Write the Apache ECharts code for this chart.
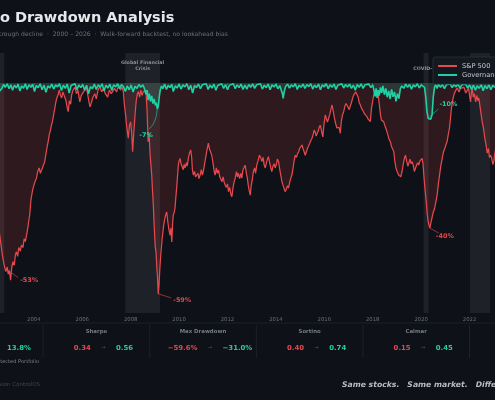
<!DOCTYPE html>
<html>
<head>
<meta charset="utf-8">
<script src="https://cdn.jsdelivr.net/npm/echarts/dist/echarts.min.js"></script>
<style>
  html, body { margin: 0; padding: 0; width: 495px; height: 400px; overflow: hidden; background: #0e1117; }
  #chart { position: absolute; left: -100px; top: 0; width: 700px; height: 400px; }
</style>
</head>
<body>
<div id="chart"></div>
<script>
// canvas is wider than the window, shifted left (the picture is a crop)
var OFF = 100;

var xMin = 2000, xMax = 2026, xStep = 2;

// [decimal year, drawdown %]
var spPoints = [
  [2000.00, 0], [2000.20, -2], [2000.45, -6], [2000.70, -3], [2000.95, -12], [2001.20, -20],
  [2001.45, -16], [2001.70, -28], [2001.90, -22], [2002.10, -24], [2002.35, -30], [2002.50, -38],
  [2002.59, -43], [2002.65, -46], [2002.70, -48.6], [2002.76, -51], [2002.84, -53.3], [2002.90, -52],
  [2002.94, -54], [2002.99, -53], [2003.04, -55.7], [2003.09, -52], [2003.14, -50.5], [2003.19, -51.5],
  [2003.24, -48.5], [2003.28, -47.7], [2003.33, -49], [2003.38, -46.5], [2003.44, -47.5], [2003.49, -45.8],
  [2003.55, -46.5], [2003.60, -44], [2003.65, -44.8], [2003.70, -43], [2003.75, -41], [2003.80, -38.5],
  [2003.83, -37.3], [2003.88, -33], [2003.93, -31], [2003.97, -29.7], [2004.02, -28.5], [2004.07, -27.5],
  [2004.11, -26.9], [2004.16, -25], [2004.22, -24], [2004.27, -25.5], [2004.32, -26], [2004.38, -23.5],
  [2004.45, -22.2], [2004.50, -20], [2004.55, -18], [2004.59, -16.6], [2004.64, -14.5], [2004.68, -13.5],
  [2004.73, -11.9], [2004.78, -10.5], [2004.83, -8.5], [2004.87, -7], [2004.92, -5], [2004.96, -4],
  [2005.00, -3.4], [2005.05, -2], [2005.10, -3.5], [2005.15, -4.2], [2005.20, -2.5], [2005.28, -2],
  [2005.33, -5], [2005.38, -7], [2005.42, -8.1], [2005.47, -5], [2005.52, -6], [2005.56, -3.4],
  [2005.62, -2], [2005.70, -1.2], [2005.76, -3], [2005.82, -2], [2005.90, -5.3], [2005.96, -3.5],
  [2006.02, -4], [2006.10, -2], [2006.16, -1], [2006.22, -3], [2006.27, -5], [2006.32, -6.7],
  [2006.38, -5.5], [2006.44, -4], [2006.52, -3], [2006.58, -4.5], [2006.65, -2], [2006.73, -1],
  [2006.80, -2.5], [2006.88, -1.5], [2006.95, -3], [2006.99, -2.5], [2007.05, -4], [2007.12, -2],
  [2007.20, -3], [2007.26, -3.5], [2007.33, -1.5], [2007.42, -2.5], [2007.50, -0.5], [2007.58, -2],
  [2007.64, -1], [2007.70, -2.5], [2007.74, -6], [2007.79, -9], [2007.83, -11.9], [2007.87, -14],
  [2007.90, -15.6], [2007.95, -12], [2008.00, -11], [2008.04, -14], [2008.08, -19.4], [2008.12, -15],
  [2008.18, -9], [2008.23, -5], [2008.28, -3], [2008.32, -2.4], [2008.37, -4], [2008.42, -2],
  [2008.47, -3.5], [2008.52, -2.5], [2008.57, -3], [2008.63, -2], [2008.68, -8], [2008.72, -16.6],
  [2008.76, -14], [2008.80, -20], [2008.87, -26], [2008.90, -30], [2008.94, -35], [2008.97, -40],
  [2009.01, -45.8], [2009.05, -48], [2009.08, -52], [2009.11, -55], [2009.14, -59.6], [2009.17, -57],
  [2009.21, -52], [2009.25, -48], [2009.30, -44], [2009.35, -41], [2009.38, -39.5], [2009.42, -38],
  [2009.46, -37], [2009.49, -36.4], [2009.53, -39], [2009.58, -41.5], [2009.63, -43], [2009.66, -41],
  [2009.70, -44.9], [2009.73, -40], [2009.76, -37.3], [2009.80, -36.5], [2009.83, -35.5], [2009.87, -32],
  [2009.90, -29.7], [2009.94, -26], [2009.97, -23.2], [2010.00, -22], [2010.04, -21.3], [2010.08, -22.8],
  [2010.11, -22.6], [2010.17, -24.5], [2010.21, -23], [2010.25, -24], [2010.30, -22.5], [2010.34, -23.5],
  [2010.38, -21.3], [2010.43, -19.8], [2010.48, -18.9], [2010.52, -21], [2010.55, -24.5], [2010.59, -26],
  [2010.64, -25], [2010.68, -26.5], [2010.73, -26.9], [2010.78, -25.5], [2010.82, -27], [2010.87, -26],
  [2010.92, -24.5], [2010.96, -26], [2011.00, -25.1], [2011.05, -23], [2011.10, -21], [2011.14, -19.4],
  [2011.21, -17], [2011.25, -18.5], [2011.30, -19], [2011.35, -20.4], [2011.40, -22.5], [2011.45, -25],
  [2011.49, -26], [2011.54, -24], [2011.58, -25.5], [2011.63, -24.6], [2011.68, -26.5], [2011.73, -27],
  [2011.77, -27.9], [2011.82, -26.5], [2011.86, -28], [2011.90, -28.8], [2011.95, -29.5], [2012.00, -28.5],
  [2012.04, -30.7], [2012.09, -29.5], [2012.14, -31.5], [2012.18, -32.1], [2012.22, -30], [2012.27, -28],
  [2012.32, -26.9], [2012.37, -25], [2012.41, -26.5], [2012.45, -25.5], [2012.50, -27], [2012.55, -25.5],
  [2012.59, -26.9], [2012.64, -24.5], [2012.69, -23.8], [2012.73, -23.2], [2012.78, -25.5], [2012.82, -26.9],
  [2012.86, -29], [2012.90, -30.5], [2012.94, -31.7], [2012.98, -29], [2013.03, -27], [2013.07, -25],
  [2013.12, -24], [2013.16, -25.5], [2013.21, -23.2], [2013.26, -22], [2013.32, -20.4], [2013.37, -21],
  [2013.42, -22.2], [2013.47, -21], [2013.51, -23], [2013.56, -24], [2013.61, -22.5], [2013.65, -21.5],
  [2013.69, -20.8], [2013.74, -22.5], [2013.79, -24], [2013.83, -25], [2013.88, -23.5], [2013.93, -22.8],
  [2013.97, -24], [2014.02, -23], [2014.06, -21.5], [2014.11, -22.2], [2014.16, -24.5], [2014.20, -26],
  [2014.25, -27.9], [2014.30, -29], [2014.34, -29.5], [2014.38, -30.7], [2014.43, -30], [2014.48, -29],
  [2014.52, -29.7], [2014.57, -28], [2014.61, -27], [2014.66, -26], [2014.71, -24], [2014.75, -22],
  [2014.80, -20.4], [2014.85, -21], [2014.89, -20], [2014.94, -19.4], [2014.98, -18.5], [2015.03, -18],
  [2015.08, -17.5], [2015.12, -18.5], [2015.17, -19.5], [2015.21, -20.4], [2015.26, -19.5], [2015.30, -18.5],
  [2015.35, -18], [2015.40, -17], [2015.44, -16.3], [2015.49, -15.6], [2015.54, -14.5], [2015.58, -13.3],
  [2015.63, -14], [2015.66, -15], [2015.70, -14.7], [2015.75, -13.5], [2015.79, -12.5], [2015.83, -11.9],
  [2015.87, -13], [2015.91, -14.5], [2015.94, -15.2], [2015.98, -12], [2016.04, -9], [2016.08, -10],
  [2016.13, -11], [2016.18, -10.9], [2016.22, -9], [2016.27, -7.5], [2016.32, -6.2], [2016.37, -8],
  [2016.42, -10], [2016.47, -11.5], [2016.52, -12.7], [2016.56, -13.2], [2016.61, -12.5], [2016.66, -14.2],
  [2016.70, -11], [2016.75, -9], [2016.80, -8.1], [2016.85, -6.5], [2016.90, -5.8], [2016.94, -5.3],
  [2016.98, -6], [2017.03, -7.5], [2017.07, -7.1], [2017.12, -5.5], [2017.16, -4.5], [2017.21, -3.4],
  [2017.26, -3], [2017.30, -2.5], [2017.35, -2.4], [2017.40, -4], [2017.44, -5.5], [2017.49, -6.2],
  [2017.53, -7], [2017.58, -7.5], [2017.62, -8.1], [2017.67, -8.8], [2017.71, -9], [2017.76, -9.5],
  [2017.81, -10.2], [2017.86, -10.5], [2017.90, -10.9], [2017.95, -7], [2018.00, -5], [2018.04, -3.4],
  [2018.09, -2.5], [2018.14, -1.8], [2018.18, -1.4], [2018.22, -3], [2018.27, -6], [2018.32, -9],
  [2018.36, -10.5], [2018.41, -11], [2018.45, -10.9], [2018.50, -12], [2018.55, -13], [2018.59, -13.8],
  [2018.64, -15], [2018.68, -16], [2018.73, -16.6], [2018.78, -18], [2018.82, -18.5], [2018.87, -19.4],
  [2018.91, -22], [2018.96, -24], [2019.01, -25], [2019.07, -26], [2019.12, -25.5], [2019.16, -26.5],
  [2019.21, -25], [2019.26, -23], [2019.30, -21.5], [2019.35, -20.4], [2019.40, -22], [2019.45, -23.5],
  [2019.49, -23.2], [2019.54, -21.5], [2019.58, -22.8], [2019.63, -22.2], [2019.68, -23.5], [2019.72, -25],
  [2019.76, -24.5], [2019.81, -23.2], [2019.86, -22.5], [2019.90, -23.2], [2019.95, -22], [2020.00, -21.5],
  [2020.04, -21.3], [2020.08, -23], [2020.11, -26], [2020.16, -30], [2020.21, -33.6], [2020.25, -37],
  [2020.29, -39.2], [2020.33, -40.3], [2020.36, -41], [2020.40, -39.5], [2020.45, -38], [2020.50, -36.5],
  [2020.56, -35.3], [2020.61, -33.5], [2020.66, -31.7], [2020.71, -28.5], [2020.76, -26], [2020.81, -23.5],
  [2020.87, -21.3], [2020.92, -19.5], [2020.98, -18.4], [2021.02, -17.5], [2021.07, -16.6], [2021.12, -14.5],
  [2021.17, -12.7], [2021.21, -10], [2021.25, -7.1], [2021.30, -5], [2021.35, -3.4], [2021.42, -2.2],
  [2021.49, -1.4], [2021.56, -2.5], [2021.63, -1.5], [2021.70, -2], [2021.77, -1.2], [2021.84, -2.8],
  [2021.90, -2.4], [2021.96, -1.5], [2022.00, -3.5], [2022.04, -5.3], [2022.08, -2.5], [2022.11, -1.4],
  [2022.15, -4], [2022.20, -3], [2022.25, -5.3], [2022.30, -3.5], [2022.34, -5], [2022.38, -4.2],
  [2022.43, -6.5], [2022.48, -9], [2022.52, -10.9], [2022.57, -12.5], [2022.63, -15.6], [2022.68, -17.5],
  [2022.73, -19.8], [2022.78, -18.5], [2022.82, -21], [2022.87, -20.4], [2022.92, -21.5], [2022.96, -23],
  [2023.00, -22.2], [2023.04, -20], [2023.07, -19], [2023.20, -14], [2023.35, -12], [2023.55, -8],
  [2023.75, -10], [2023.95, -4], [2024.20, -1], [2024.50, -2], [2024.80, -1], [2025.10, -3],
  [2025.30, -17], [2025.50, -6], [2025.80, -1], [2026.00, 0]
];

var govPoints = [
  [2000.00, 0], [2000.25, -4], [2000.50, -9], [2000.75, -15], [2001.00, -22], [2001.25, -27],
  [2001.50, -31], [2001.75, -24], [2002.00, -16], [2002.25, -9], [2002.45, -4], [2002.59, -2.2],
  [2002.68, -1.5], [2002.75, -0.4], [2002.82, -1.2], [2002.90, -0.2], [2002.98, -1.6], [2003.05, -0.5],
  [2003.12, -2.0], [2003.20, -0.6], [2003.28, -1.4], [2003.35, -0.3], [2003.42, -2.2], [2003.50, -0.8],
  [2003.57, -1.5], [2003.65, -0.2], [2003.72, -1.8], [2003.80, -0.5], [2003.88, -1.2], [2003.95, -0.3],
  [2004.03, -2.4], [2004.10, -0.7], [2004.18, -1.3], [2004.26, -0.2], [2004.34, -1.9], [2004.42, -0.6],
  [2004.50, -2.6], [2004.58, -0.8], [2004.66, -1.4], [2004.74, -0.3], [2004.82, -1.7], [2004.90, -0.5],
  [2004.98, -1.1], [2005.06, -0.2], [2005.14, -2.1], [2005.22, -0.6], [2005.30, -1.5], [2005.38, -0.3],
  [2005.46, -2.8], [2005.54, -0.7], [2005.62, -1.2], [2005.70, -0.2], [2005.78, -1.9], [2005.86, -0.5],
  [2005.94, -1.3], [2006.02, -0.4], [2006.10, -2.0], [2006.18, -0.6], [2006.26, -3.0], [2006.34, -1.0],
  [2006.42, -1.6], [2006.50, -0.3], [2006.58, -1.8], [2006.66, -0.5], [2006.74, -1.2], [2006.82, -0.2],
  [2006.90, -2.2], [2006.98, -0.6], [2007.06, -1.4], [2007.14, -0.3], [2007.22, -2.0], [2007.30, -0.5],
  [2007.38, -1.1], [2007.46, -0.2], [2007.54, -1.6], [2007.62, -0.4], [2007.70, -1.0], [2007.78, -2.4],
  [2007.86, -0.8], [2007.94, -1.9], [2008.02, -0.6], [2008.10, -2.5], [2008.18, -0.9], [2008.26, -1.5],
  [2008.34, -0.4], [2008.42, -1.2], [2008.50, -0.5], [2008.56, -1.4], [2008.63, -3.2], [2008.68, -2.0],
  [2008.72, -4.8], [2008.77, -3.0], [2008.82, -5.2], [2008.87, -3.6], [2008.92, -5.8], [2008.97, -4.5],
  [2009.02, -6.3], [2009.06, -5.5], [2009.10, -7.3], [2009.14, -6.5], [2009.18, -4.0], [2009.22, -2.0],
  [2009.27, -0.8], [2009.33, -1.6], [2009.40, -0.3], [2009.48, -1.8], [2009.55, -0.6], [2009.62, -1.3],
  [2009.70, -0.4], [2009.76, -2.4], [2009.84, -0.8], [2009.92, -1.4], [2010.00, -0.3], [2010.08, -1.7],
  [2010.16, -0.5], [2010.24, -1.1], [2010.32, -0.2], [2010.40, -1.9], [2010.48, -0.6], [2010.56, -2.8],
  [2010.64, -0.7], [2010.72, -1.3], [2010.80, -0.3], [2010.88, -1.6], [2010.96, -0.5], [2011.04, -1.0],
  [2011.12, -0.2], [2011.20, -1.8], [2011.28, -0.6], [2011.36, -1.4], [2011.44, -0.3], [2011.52, -2.0],
  [2011.60, -0.7], [2011.68, -1.2], [2011.76, -0.2], [2011.84, -1.5], [2011.92, -0.4], [2012.00, -1.9],
  [2012.08, -0.6], [2012.16, -1.1], [2012.24, -0.2], [2012.32, -1.6], [2012.40, -0.5], [2012.48, -1.3],
  [2012.56, -0.3], [2012.64, -1.8], [2012.72, -0.6], [2012.80, -1.7], [2012.88, -0.4], [2012.96, -1.2],
  [2013.04, -0.2], [2013.12, -1.5], [2013.20, -0.5], [2013.28, -1.0], [2013.36, -0.2], [2013.44, -1.7],
  [2013.52, -0.6], [2013.60, -1.3], [2013.68, -0.3], [2013.76, -1.9], [2013.84, -0.5], [2013.92, -1.1],
  [2014.00, -0.3], [2014.08, -1.6], [2014.16, -0.7], [2014.22, -2.0], [2014.27, -3.0], [2014.30, -4.3],
  [2014.34, -2.5], [2014.40, -1.0], [2014.48, -0.3], [2014.56, -1.4], [2014.64, -0.5], [2014.72, -1.1],
  [2014.80, -0.2], [2014.88, -1.8], [2014.96, -0.6], [2015.04, -1.2], [2015.12, -0.3], [2015.20, -1.5],
  [2015.28, -0.4], [2015.36, -1.0], [2015.44, -0.2], [2015.52, -1.7], [2015.60, -0.6], [2015.68, -1.3],
  [2015.76, -0.3], [2015.84, -1.9], [2015.92, -0.5], [2016.00, -1.1], [2016.08, -0.2], [2016.16, -1.6],
  [2016.24, -0.5], [2016.32, -1.2], [2016.40, -0.3], [2016.48, -1.8], [2016.56, -0.6], [2016.64, -1.0],
  [2016.72, -0.2], [2016.80, -1.4], [2016.88, -0.4], [2016.96, -1.1], [2017.04, -0.3], [2017.12, -1.5],
  [2017.20, -0.6], [2017.28, -2.0], [2017.36, -0.4], [2017.44, -1.2], [2017.52, -0.2], [2017.60, -1.5],
  [2017.68, -0.5], [2017.76, -1.0], [2017.84, -0.3], [2017.92, -1.3], [2018.00, -0.5], [2018.06, -2.4],
  [2018.10, -3.8], [2018.14, -1.5], [2018.18, -4.2], [2018.22, -2.0], [2018.27, -3.5], [2018.32, -1.2],
  [2018.37, -2.8], [2018.42, -0.8], [2018.48, -3.3], [2018.54, -1.5], [2018.60, -4.0], [2018.66, -2.2],
  [2018.72, -4.5], [2018.78, -1.8], [2018.84, -3.9], [2018.90, -2.5], [2018.96, -5.2], [2019.02, -3.0],
  [2019.08, -4.4], [2019.14, -1.6], [2019.20, -0.8], [2019.28, -1.5], [2019.36, -0.3], [2019.44, -1.2],
  [2019.52, -0.4], [2019.60, -1.7], [2019.68, -0.5], [2019.76, -1.1], [2019.84, -0.2], [2019.92, -1.4],
  [2020.00, -0.5], [2020.06, -1.0], [2020.14, -1.2], [2020.19, -4.0], [2020.24, -8.0], [2020.29, -10.0],
  [2020.34, -9.5], [2020.40, -10.2], [2020.45, -9.0], [2020.50, -4.0], [2020.55, -1.2], [2020.60, -0.4],
  [2020.66, -1.5], [2020.72, -0.3], [2020.80, -1.2], [2020.88, -0.4], [2020.96, -1.6], [2021.04, -0.5],
  [2021.12, -1.0], [2021.20, -0.2], [2021.28, -1.3], [2021.36, -0.4], [2021.44, -1.1], [2021.52, -0.2],
  [2021.60, -1.5], [2021.68, -0.5], [2021.76, -1.0], [2021.84, -0.3], [2021.92, -1.4], [2022.00, -0.5],
  [2022.08, -1.8], [2022.16, -0.6], [2022.24, -2.0], [2022.32, -0.8], [2022.40, -1.5], [2022.48, -0.4],
  [2022.56, -2.2], [2022.64, -0.7], [2022.72, -1.6], [2022.80, -0.5], [2022.88, -1.9], [2022.96, -0.6],
  [2023.04, -1.2], [2023.30, -0.3], [2023.60, -1.0], [2024.00, -0.4], [2024.50, -1.2], [2025.00, -0.3],
  [2025.30, -3.0], [2025.60, -0.8], [2026.00, -0.2]
];

var crisisStart = [2000.2, 2007.78, 2020.1, 2022.02];
var crisisEnd = [2002.78, 2009.21, 2020.31, 2022.85];
var crisisNames = ['Dot-com\nCrash', 'Global Financial\nCrisis', 'COVID-19', '2022 Rate\nShock'];

var annoSeries = [0, 1, 0, 1, 0];
var annoYears = [2002.94, 2009.10, 2009.14, 2020.34, 2020.36];
var annoValues = [-53, -7.3, -59.6, -9.6, -41];
var annoTexts = ['-53%', '-7%', '-59%', '-10%', '-40%'];

var statNames = ['CAGR', 'Sharpe', 'Max Drawdown', 'Sortino', 'Calmar', 'Volatility'];
var statBefore = ['7.9%', '0.34', '\u221259.6%', '0.40', '0.15', '15.4%'];
var statAfter = ['13.8%', '0.56', '\u221231.0%', '0.74', '0.45', '9.1%'];

var RED = '#e5484d';
var TEAL = '#1fd1a5';
var FONT = 'DejaVu Sans';

var chart = echarts.init(document.getElementById('chart'));

var graphics = [
  { type: 'text', x: OFF - 61, y: 18, style: { text: 'Portfolio Drawdown Analysis', fill: '#e6e8ec', font: 'bold 14.5px ' + FONT, verticalAlign: 'middle' } },
  { type: 'text', x: OFF - 58.4, y: 34, style: { text: 'Maximum peak-to-trough decline  \u00b7  2000 \u2013 2026  \u00b7  Walk-forward backtest, no lookahead bias', fill: '#6b7079', font: '6.1px ' + FONT, verticalAlign: 'middle' } },
  { type: 'line', shape: { x1: OFF - 64, y1: 323, x2: OFF + 580, y2: 323 }, style: { stroke: '#1d2129', lineWidth: 1 } },
  { type: 'text', x: OFF + 39, y: 362, style: { text: 'S&P 500 \u2192 Governance-Protected Portfolio', fill: '#7d828b', font: '5.1px ' + FONT, align: 'right', verticalAlign: 'middle' } },
  { type: 'text', x: OFF + 40, y: 385, style: { text: 'Generated by Decision ControlOS', fill: '#40444d', font: '5.5px ' + FONT, align: 'right', verticalAlign: 'middle' } },
  { type: 'text', x: OFF + 342, y: 385, style: { text: 'Same stocks.   Same market.   Different outcome.', fill: '#b9bdc5', font: 'italic bold 7.7px ' + FONT, verticalAlign: 'middle' } }
];

// metric row
statNames.forEach(function (name, i) {
  var cx = OFF - 10.2 + 106.6 * i;
  graphics.push({ type: 'text', x: cx, y: 332, style: { text: name, fill: '#767b84', font: 'bold 5.4px ' + FONT, align: 'center', verticalAlign: 'middle' } });
  graphics.push({
    type: 'text', x: cx + 7, y: 348,
    style: {
      text: '{a|' + statBefore[i] + '}{s|\u2192}{b|' + statAfter[i] + '}',
      align: 'center', verticalAlign: 'middle',
      rich: {
        a: { fill: RED, font: 'bold 6.9px ' + FONT },
        s: { fill: '#50555e', font: '5px ' + FONT, padding: [0, 10.5] },
        b: { fill: TEAL, font: 'bold 6.9px ' + FONT }
      }
    }
  });
  if (i < statNames.length - 1) {
    graphics.push({ type: 'line', shape: { x1: cx + 53.3, y1: 325, x2: cx + 53.3, y2: 358 }, style: { stroke: '#1d2129', lineWidth: 1 } });
  }
});

var option = {
  backgroundColor: '#0e1117',
  animation: false,
  textStyle: { fontFamily: FONT },
  grid: { left: 37, right: 33.6, top: 53, bottom: 87 },
  legend: {
    orient: 'vertical',
    left: 533,
    top: 57,
    icon: 'rect',
    itemWidth: 19,
    itemHeight: 2,
    itemGap: 1,
    padding: [5, 6, 5, 5],
    backgroundColor: '#141820',
    borderColor: '#2b3039',
    borderWidth: 0.8,
    borderRadius: 2,
    textStyle: { color: '#c5c9d0', fontSize: 6.7, lineHeight: 8 },
    data: ['S&P 500', 'Governance-Protected Portfolio']
  },
  xAxis: {
    type: 'value',
    min: xMin,
    max: xMax,
    interval: xStep,
    axisLine: { show: false },
    axisTick: { show: true, length: 2, lineStyle: { color: '#3a3f48' } },
    axisLabel: { color: '#6b7079', fontSize: 5.3, margin: 4, formatter: function (v) { return String(v); } },
    splitLine: { show: false }
  },
  yAxis: { type: 'value', min: -65, max: 8.5, show: false },
  series: [
    {
      name: 'S&P 500',
      type: 'line',
      data: spPoints,
      symbol: 'none',
      z: 2,
      lineStyle: { color: RED, width: 1.25 },
      itemStyle: { color: RED },
      areaStyle: { color: 'rgba(229,72,77,0.21)' },
      markArea: {
        silent: true,
        itemStyle: { color: 'rgba(200,205,215,0.09)' },
        label: {
          position: ['50%', 19],
          align: 'center',
          verticalAlign: 'bottom',
          color: '#8a8f98',
          fontSize: 4.8,
          fontWeight: 'bold',
          lineHeight: 6
        },
        data: crisisStart.map(function (s, i) {
          return [{ xAxis: s, name: crisisNames[i] }, { xAxis: crisisEnd[i] }];
        })
      }
    },
    {
      name: 'Governance-Protected Portfolio',
      type: 'line',
      data: govPoints,
      symbol: 'none',
      z: 3,
      lineStyle: { color: TEAL, width: 1.6 },
      itemStyle: { color: TEAL },
      areaStyle: { color: 'rgba(31,209,165,0.24)' }
    }
  ],
  graphic: graphics
};

chart.setOption(option);

// trough callouts, placed through the chart's own scales
var labelOffsets = [[12, 10], [-18, 26], [15, 6], [10, -12.5], [6, 8.5]];
var arrowEnds = [[10, 7], [-8, 20], [13, 4], [9, -8], [9, 5]];
annoYears.forEach(function (yr, i) {
  var p = chart.convertToPixel({ seriesIndex: annoSeries[i] }, [yr, annoValues[i]]);
  var col = annoSeries[i] === 0 ? RED : TEAL;
  var lo = labelOffsets[i], ae = arrowEnds[i];
  var ex = p[0] + ae[0], ey = p[1] + ae[1];
  graphics.push({
    type: 'bezierCurve',
    shape: { x1: p[0], y1: p[1], x2: ex, y2: ey, cpx1: i === 1 ? p[0] - 1 : (p[0] + ex) / 2, cpy1: i === 1 ? p[1] + 14 : (p[1] + ey) / 2 },
    style: { stroke: col, lineWidth: 0.6, fill: null },
    z: 10
  });
  graphics.push({
    type: 'text', x: p[0] + lo[0], y: p[1] + lo[1], z: 10,
    style: { text: annoTexts[i], fill: col, font: 'bold 6.4px ' + FONT, verticalAlign: 'middle' }
  });
});
chart.setOption({ graphic: graphics });
</script>
</body>
</html>
